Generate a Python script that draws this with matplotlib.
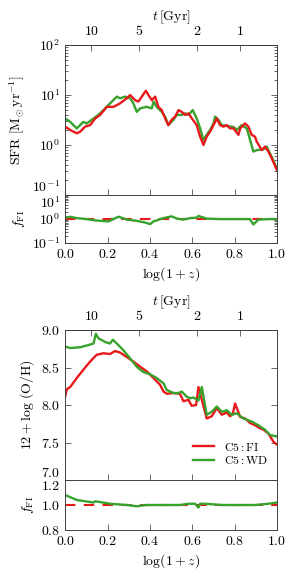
import numpy as np
import matplotlib
matplotlib.use("Agg")
import matplotlib.pyplot as plt
from matplotlib.ticker import LogLocator, FixedLocator, NullFormatter

plt.rcParams["font.family"] = "serif"
plt.rcParams["font.serif"] = ["cmr10", "DejaVu Serif"]
plt.rcParams["mathtext.fontset"] = "cm"
plt.rcParams["axes.formatter.use_mathtext"] = True
plt.rcParams["font.size"] = 9

RED = "#e8191c"
GREEN = "#36a22c"

# --- SFR panel, x = log(1+z) ---
sfr_fi_x = [0.000, 0.024, 0.055, 0.071, 0.094, 0.118, 0.142, 0.165, 0.197, 0.228,
            0.259, 0.291, 0.307, 0.330, 0.346, 0.362, 0.381, 0.393, 0.409, 0.425,
            0.440, 0.456, 0.472, 0.487, 0.503, 0.519, 0.535, 0.550, 0.566, 0.582,
            0.598, 0.621, 0.637, 0.653, 0.668, 0.684, 0.700, 0.716, 0.731, 0.747,
            0.763, 0.778, 0.794, 0.818, 0.826, 0.849, 0.865, 0.880, 0.896, 0.904,
            0.928, 0.943, 0.959, 0.975, 1.000]
sfr_fi = [2.33, 2.0, 1.71, 1.85, 2.33, 2.5, 3.4, 4.0, 5.8, 5.8,
          6.8, 8.6, 10.0, 7.9, 7.4, 9.3, 12.2, 10.0, 7.9, 9.3,
          5.8, 5.0, 3.4, 2.5, 3.2, 3.7, 5.0, 4.6, 4.0, 4.3,
          3.4, 2.5, 1.47, 1.0, 1.47, 1.85, 2.5, 3.4, 2.5, 2.33,
          2.5, 2.15, 2.15, 1.6, 2.15, 2.7, 2.33, 1.6, 1.47, 1.17,
          0.79, 0.93, 0.74, 0.54, 0.31]

sfr_wd_x = [0.000, 0.024, 0.055, 0.086, 0.102, 0.134, 0.157, 0.181, 0.212, 0.244,
            0.259, 0.283, 0.307, 0.322, 0.338, 0.354, 0.385, 0.409, 0.417, 0.432,
            0.456, 0.472, 0.487, 0.511, 0.527, 0.550, 0.566, 0.582, 0.602, 0.621,
            0.637, 0.653, 0.668, 0.684, 0.700, 0.708, 0.723, 0.739, 0.763, 0.794,
            0.810, 0.833, 0.857, 0.873, 0.888, 0.904, 0.936, 0.951, 0.975, 1.000]
sfr_wd = [3.4, 2.9, 2.15, 2.9, 2.7, 3.4, 4.0, 5.0, 6.8, 9.3,
          8.6, 9.3, 8.6, 6.8, 4.6, 5.4, 5.8, 5.4, 7.4, 5.8,
          4.6, 3.7, 2.5, 3.2, 4.0, 4.0, 4.3, 4.0, 5.0, 3.4,
          2.15, 1.26, 1.6, 2.0, 2.7, 3.7, 3.2, 2.5, 2.4, 2.3,
          2.0, 2.5, 2.15, 1.26, 0.74, 0.79, 0.82, 0.93, 0.58, 0.33]

ratio_sfr_x = [0.000, 0.024, 0.055, 0.102, 0.134, 0.165, 0.204, 0.228, 0.252, 0.291,
               0.338, 0.377, 0.401, 0.417, 0.464, 0.503, 0.527, 0.558, 0.590, 0.621,
               0.629, 0.668, 0.731, 0.794, 0.841, 0.872, 0.888, 0.912, 0.959, 1.000]
ratio_sfr = [1.15, 1.25, 1.10, 1.00, 0.90, 0.85, 0.80, 1.00, 1.26, 0.95,
             0.85, 0.72, 0.62, 0.80, 1.10, 1.30, 1.05, 0.95, 1.10, 1.15,
             1.35, 1.05, 1.00, 1.00, 1.00, 1.00, 0.60, 0.95, 1.00, 1.00]

# --- metallicity panel ---
oh_fi_x = [0.000, 0.008, 0.024, 0.055, 0.086, 0.118, 0.149, 0.181, 0.212, 0.236,
           0.259, 0.291, 0.322, 0.354, 0.385, 0.417, 0.448, 0.464, 0.480, 0.511,
           0.542, 0.558, 0.582, 0.597, 0.618, 0.629, 0.645, 0.668, 0.692, 0.716,
           0.739, 0.763, 0.778, 0.791, 0.802, 0.826, 0.849, 0.873, 0.896, 0.920,
           0.936, 0.959, 0.983, 1.000]
oh_fi = [8.11, 8.21, 8.24, 8.36, 8.47, 8.58, 8.67, 8.69, 8.68, 8.72,
         8.70, 8.64, 8.58, 8.51, 8.45, 8.36, 8.27, 8.18, 8.15, 8.16,
         8.15, 8.05, 8.07, 7.99, 8.00, 8.24, 8.07, 7.82, 7.85, 7.96,
         7.87, 7.90, 7.85, 7.88, 8.02, 7.84, 7.82, 7.76, 7.73, 7.69,
         7.67, 7.62, 7.51, 7.47]

oh_wd_x = [0.000, 0.024, 0.071, 0.110, 0.134, 0.145, 0.157, 0.189, 0.212, 0.225,
           0.244, 0.275, 0.307, 0.338, 0.369, 0.401, 0.432, 0.464, 0.480, 0.511,
           0.535, 0.550, 0.574, 0.590, 0.605, 0.629, 0.645, 0.668, 0.692, 0.716,
           0.739, 0.763, 0.786, 0.810, 0.841, 0.880, 0.912, 0.943, 0.967, 1.000]
oh_wd = [8.78, 8.76, 8.77, 8.80, 8.82, 8.95, 8.89, 8.84, 8.82, 8.87,
         8.82, 8.73, 8.62, 8.51, 8.44, 8.41, 8.36, 8.29, 8.20, 8.16,
         8.16, 8.18, 8.11, 8.09, 8.10, 8.06, 8.24, 7.87, 7.91, 7.98,
         7.91, 7.93, 7.87, 7.89, 7.82, 7.78, 7.73, 7.67, 7.60, 7.58]

ratio_oh_x = [0.000, 0.055, 0.134, 0.142, 0.212, 0.291, 0.338, 0.385, 0.464, 0.542,
              0.582, 0.613, 0.629, 0.637, 0.660, 0.739, 0.818, 0.896, 0.959, 1.000]
ratio_oh = [1.08, 1.04, 1.02, 1.03, 1.01, 1.00, 0.99, 1.00, 1.00, 1.00,
            1.01, 1.01, 0.98, 1.01, 1.01, 1.00, 1.00, 1.00, 1.01, 1.02]

t_ticks = [10, 5, 2, 1]

# flat LCDM cosmic time <-> log(1+z)
H0_gyr = 1.0 / 14.44
Om, OL = 0.31, 0.69


def t_of_x(x):
    a = 10.0 ** (-np.asarray(x, dtype=float))
    return 2.0 / (3.0 * H0_gyr * np.sqrt(OL)) * np.arcsinh(np.sqrt(OL / Om) * a ** 1.5)


def x_of_t(t):
    t = np.asarray(t, dtype=float)
    y = np.sinh(t * 3.0 * H0_gyr * np.sqrt(OL) / 2.0) / np.sqrt(OL / Om)
    return -np.log10(y ** (2.0 / 3.0))


def style(ax, xlabels=False):
    ax.tick_params(which="both", direction="in", top=False, right=True,
                   labelsize=10, width=0.6, color="0.3")
    ax.tick_params(which="major", length=4)
    ax.tick_params(which="minor", length=2)
    for s in ax.spines.values():
        s.set_linewidth(0.7)
        s.set_color("0.25")
    ax.set_xlim(0, 1)
    ax.set_xticks([0.0, 0.2, 0.4, 0.6, 0.8, 1.0])
    if not xlabels:
        ax.set_xticklabels([])
    else:
        ax.set_xticklabels(["$%.1f$" % v for v in [0.0, 0.2, 0.4, 0.6, 0.8, 1.0]])
        ax.set_xlabel(r"$\log(1+z)$", fontsize=10, labelpad=3)


def edge_labels(ax_main, ax_ratio):
    # lowest label of the main panel sits above the join, top label of the ratio below it
    ax_main.get_yticklabels()[0].set_va("bottom")
    ax_ratio.get_yticklabels()[-1].set_va("top")


def top_time_axis(ax):
    tax = ax.secondary_xaxis("top", functions=(t_of_x, x_of_t))
    tax.set_xticks(t_ticks)
    tax.set_xticklabels(["$%d$" % v for v in t_ticks])
    tax.xaxis.set_minor_locator(FixedLocator([]))
    tax.tick_params(direction="in", length=4, labelsize=10, width=0.6, color="0.3", pad=5)
    tax.spines["top"].set_linewidth(0.7)
    tax.set_xlabel(r"$t\,[\mathrm{Gyr}]$", fontsize=10, labelpad=3)


fig = plt.figure(figsize=(2.96, 5.79), dpi=100)
L, W = 0.22, 0.716

# SFR
ax1 = fig.add_axes([L, 0.6632, W, 0.259])
ax1.plot(sfr_wd_x, sfr_wd, color=GREEN, lw=1.7)
ax1.plot(sfr_fi_x, sfr_fi, color=RED, lw=1.7)
ax1.set_yscale("log")
ax1.set_ylim(0.1, 100)
ax1.set_yticks([0.1, 1, 10, 100])
ax1.set_yticklabels([r"$10^{-1}$", r"$10^{0}$", r"$10^{1}$", r"$10^{2}$"])
ax1.yaxis.set_minor_locator(LogLocator(base=10, subs=np.arange(2, 10)))
ax1.yaxis.set_minor_formatter(NullFormatter())
style(ax1)
ax1.set_ylabel(r"$\mathrm{SFR}\ [\mathrm{M_{\odot}\,yr^{-1}}]$", fontsize=10)
top_time_axis(ax1)

ax2 = fig.add_axes([L, 0.580, W, 0.0832])
ax2.plot([0, 1], [1, 1], color=RED, lw=1.5, ls=(0, (5, 4)))
ax2.plot(ratio_sfr_x, ratio_sfr, color=GREEN, lw=1.7)
ax2.set_yscale("log")
ax2.set_ylim(0.1, 10)
ax2.set_yticks([0.1, 1, 10])
ax2.set_yticklabels([r"$10^{-1}$", r"$10^{0}$", r"$10^{1}$"])
ax2.yaxis.set_minor_locator(LogLocator(base=10, subs=np.arange(2, 10)))
ax2.yaxis.set_minor_formatter(NullFormatter())
style(ax2, xlabels=True)
ax2.set_ylabel(r"$f_{\rm FI}$", fontsize=10)
edge_labels(ax1, ax2)

# metallicity
ax3 = fig.add_axes([L, 0.171, W, 0.259])
ax3.plot(oh_fi_x, oh_fi, color=RED, lw=1.7, label=r"$\mathrm{C5{:}FI}$")
ax3.plot(oh_wd_x, oh_wd, color=GREEN, lw=1.7, label=r"$\mathrm{C5{:}WD}$")
ax3.set_ylim(7.0, 9.0)
ax3.set_yticks([7.0, 7.5, 8.0, 8.5, 9.0])
ax3.set_yticklabels(["$%.1f$" % v for v in [7.0, 7.5, 8.0, 8.5, 9.0]])
style(ax3)
ax3.set_ylabel(r"$12+\log\,(\mathrm{O/H})$", fontsize=10)
ax3.legend(loc="lower right", frameon=False, fontsize=8.5, handlelength=1.8,
           handletextpad=0.9, borderaxespad=0.3, labelspacing=0.1,
           bbox_to_anchor=(1.0, 0.04))
top_time_axis(ax3)

ax4 = fig.add_axes([L, 0.0846, W, 0.0864])
ax4.plot([0, 1], [1, 1], color=RED, lw=1.5, ls=(0, (5, 4)))
ax4.plot(ratio_oh_x, ratio_oh, color=GREEN, lw=1.7)
ax4.set_ylim(0.8, 1.2)
ax4.set_yticks([0.8, 1.0, 1.2])
ax4.set_yticklabels(["$%.1f$" % v for v in [0.8, 1.0, 1.2]])
style(ax4, xlabels=True)
ax4.set_ylabel(r"$f_{\rm FI}$", fontsize=10)
edge_labels(ax3, ax4)

fig.savefig("out.png", dpi=100)
